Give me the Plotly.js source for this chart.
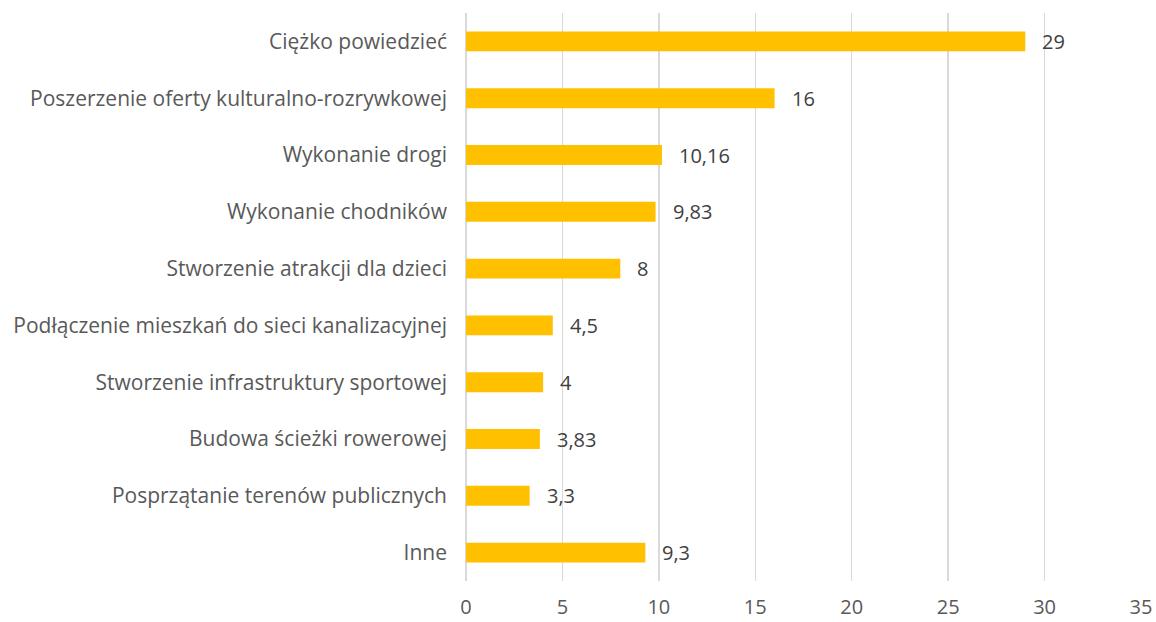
<!DOCTYPE html>
<html><head><meta charset="utf-8">
<script src="https://cdn.plot.ly/plotly-3.0.1.min.js"></script>
<style>html,body{margin:0;padding:0;background:#fff}#c{width:1156px;height:622px}</style>
</head><body><div id="c"></div>
<script>
const categories = ["Ciężko powiedzieć","Poszerzenie oferty kulturalno-rozrywkowej","Wykonanie drogi","Wykonanie chodników","Stworzenie atrakcji dla dzieci","Podłączenie mieszkań do sieci kanalizacyjnej","Stworzenie infrastruktury sportowej","Budowa ścieżki rowerowej","Posprzątanie terenów publicznych","Inne"];
const values = [29,16,10.16,9.83,8,4.5,4,3.83,3.3,9.3];
const xTicks = [0,5,10,15,20,25,30,35];

const fmt = v => String(v).replace('.', ',');
const textColor = '#595959';
const font = {family:'"Open Sans", sans-serif', size:21, color:textColor};
const numFont = {family:'"Open Sans", sans-serif', size:20, color:'#404040'};

const annotations = values.map((v,i)=>({
  x:v, y:categories[i], xref:'x', yref:'y', text:fmt(v), showarrow:false,
  xanchor:'left', yanchor:'middle', xshift:15, font:numFont
}));

Plotly.newPlot('c',[{
  type:'bar', orientation:'h', x:values, y:categories, width:0.35,
  marker:{color:'#FFC000'}, hoverinfo:'none'
}],{
  width:1156, height:622,
  margin:{l:466, r:15, t:12.5, b:40.5, pad:0},
  paper_bgcolor:'#fff', plot_bgcolor:'#fff',
  font:font, showlegend:false,
  xaxis:{range:[0,35], tickvals:xTicks, ticktext:xTicks.map(String), showgrid:true, gridcolor:'#d9d9d9', gridwidth:1.5,
    zeroline:true, zerolinecolor:'#d9d9d9', zerolinewidth:1.5, showline:false, ticks:'', ticklabelstandoff:12, tickfont:{...numFont, color:textColor}, fixedrange:true},
  yaxis:{type:'category', autorange:'reversed', showgrid:false, zeroline:false, showline:false, ticks:'', ticklabelstandoff:18, tickfont:font, fixedrange:true},
  annotations:annotations
},{staticPlot:true});
</script></body></html>
